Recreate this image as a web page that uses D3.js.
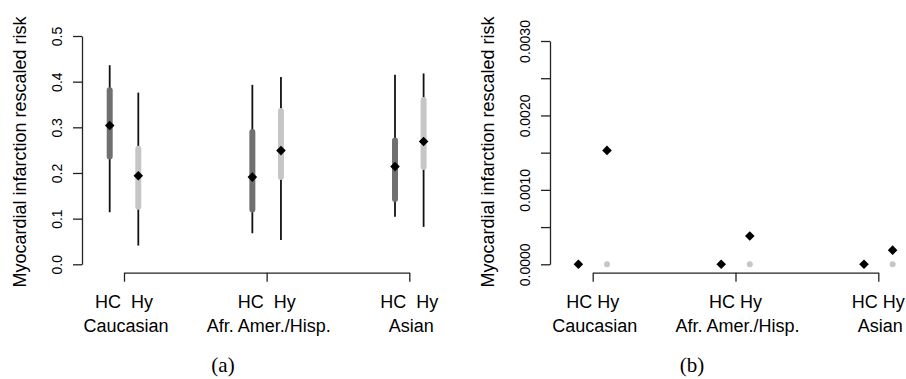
<!DOCTYPE html>
<html>
<head>
<meta charset="utf-8">
<script src="https://cdn.jsdelivr.net/npm/d3@7"></script>
<style>
  body { margin: 0; background: #fff; }
  text { font-family: "Liberation Sans", Arial, Helvetica, sans-serif; fill: #000; }
</style>
</head>
<body>
<div id="chart"></div>
<script>
// categories
var groups = ["Caucasian", "Afr. Amer./Hisp.", "Asian"];
var types = ["HC", "Hy"];

// panel (a): order Cauc HC, Cauc Hy, Afr HC, Afr Hy, Asian HC, Asian Hy
var aEst  = [0.304, 0.194, 0.191, 0.249, 0.214, 0.269];
var aLo95 = [0.114, 0.041, 0.068, 0.053, 0.104, 0.082];
var aHi95 = [0.436, 0.376, 0.393, 0.410, 0.415, 0.418];
var aLo50 = [0.236, 0.126, 0.120, 0.191, 0.143, 0.213];
var aHi50 = [0.381, 0.253, 0.290, 0.336, 0.271, 0.360];

// panel (b)
var bEst  = [0, 0.00153, 0, 0.00038, 0, 0.00019];
var bLo95 = [0, 0, 0, 0, 0, 0];
var bHi95 = [0, 0, 0, 0, 0, 0];
var bLo50 = [0, 0, 0, 0, 0, 0];
var bHi50 = [0, 0, 0, 0, 0, 0];

var aTicks = [0, 0.1, 0.2, 0.3, 0.4, 0.5];
var bTicks = [0, 0.0005, 0.001, 0.0015, 0.002, 0.0025, 0.003];
var bLabelled = [0, 0.001, 0.002, 0.003];

var boxColor = { HC: "#707070", Hy: "#c6c6c6" };

var svg = d3.select("#chart")
  .append("svg")
  .attr("width", 906)
  .attr("height", 379);

function rows(est, lo95, hi95, lo50, hi50) {
  var out = [];
  groups.forEach(function (g, i) {
    types.forEach(function (t, j) {
      var k = i * 2 + j;
      out.push({ group: g, type: t, est: est[k], lo95: lo95[k], hi95: hi95[k], lo50: lo50[k], hi50: hi50[k] });
    });
  });
  return out;
}

function panel(opt) {
  var g = svg.append("g");

  var y = d3.scaleLinear().domain(opt.domain).range([264.3, opt.top]);
  var x = d3.scalePoint().domain(groups).range(opt.xRange);
  var off = d3.scalePoint().domain(types).range([-14.3, 14.3]);

  // y axis
  var yAxis = g.append("g")
    .attr("transform", "translate(" + opt.axisX + ",0)")
    .call(d3.axisLeft(y).tickValues(opt.ticks).tickSize(9).tickSizeOuter(0).tickFormat(opt.fmt));
  yAxis.select(".domain").attr("stroke", "#222").attr("stroke-width", 1.3);
  yAxis.selectAll(".tick line").attr("stroke", "#222").attr("stroke-width", 1.3);
  yAxis.selectAll(".tick text")
    .attr("x", null).attr("dy", null)
    .attr("text-anchor", "middle")
    .attr("transform", "translate(-20,0) rotate(-90)")
    .style("font-size", "14px")
    .style("font-family", '"Liberation Sans", Arial, sans-serif')
    .attr("fill", "#000");

  // x axis (bracket)
  var xAxis = g.append("g")
    .attr("transform", "translate(0,272.7)")
    .call(d3.axisBottom(x).tickSize(9).tickSizeOuter(0).tickFormat(""));
  xAxis.select(".domain").attr("stroke", "#222").attr("stroke-width", 1.3);
  xAxis.selectAll(".tick line").attr("stroke", "#222").attr("stroke-width", 1.3);

  // category labels
  g.selectAll(".sub")
    .data(groups)
    .enter()
    .append("text")
    .attr("x", function (d) { return x(d); })
    .attr("y", 308)
    .attr("text-anchor", "middle")
    .style("white-space", "pre")
    .style("font-size", "18px")
    .text(opt.subLabel);

  g.selectAll(".grp")
    .data(groups)
    .enter()
    .append("text")
    .attr("x", function (d) { return x(d) + 2; })
    .attr("y", 332)
    .attr("text-anchor", "middle")
    .style("font-size", "18px")
    .text(function (d) { return d; });

  // y title
  g.append("text")
    .attr("transform", "translate(" + opt.titleX + ",152) rotate(-90)")
    .attr("text-anchor", "middle")
    .style("font-size", "18px")
    .text("Myocardial infarction rescaled risk");

  // panel tag
  g.append("text")
    .attr("x", opt.tagX)
    .attr("y", 372)
    .attr("text-anchor", "middle")
    .style("font-family", '"Liberation Serif", "Times New Roman", serif')
    .style("font-size", "21px")
    .text(opt.tag);

  var data = opt.data;
  var cx = function (d) { return x(d.group) + off(d.type); };

  g.append("g")
    .selectAll("line")
    .data(data)
    .enter()
    .append("line")
    .attr("x1", cx).attr("x2", cx)
    .attr("y1", function (d) { return y(d.lo95); })
    .attr("y2", function (d) { return y(d.hi95); })
    .attr("stroke", "#111")
    .attr("stroke-width", opt.whisker ? 1.8 : 0);

  g.append("g")
    .selectAll("line")
    .data(data)
    .enter()
    .append("line")
    .attr("x1", cx).attr("x2", cx)
    .attr("y1", function (d) { return y(d.lo50); })
    .attr("y2", function (d) { return y(d.hi50); })
    .attr("stroke", function (d) { return boxColor[d.type]; })
    .attr("stroke-width", 6)
    .attr("stroke-linecap", "round");

  var diamond = d3.symbol().type(d3.symbolSquare).size(46);
  g.append("g")
    .selectAll("path")
    .data(data)
    .enter()
    .append("path")
    .attr("d", diamond)
    .attr("transform", function (d) { return "translate(" + cx(d) + "," + y(d.est) + ") rotate(45)"; })
    .attr("fill", "#000");
}

panel({
  data: rows(aEst, aLo95, aHi95, aLo50, aHi50),
  domain: [0, 0.5], top: 36, ticks: aTicks,
  fmt: d3.format(".1f"),
  axisX: 82, xRange: [124, 409.3], titleX: 26,
  subLabel: "HC  Hy", tag: "(a)", tagX: 223, whisker: true
});

panel({
  data: rows(bEst, bLo95, bHi95, bLo50, bHi50),
  domain: [0, 0.003], top: 41, ticks: bTicks,
  fmt: function (d) { return bLabelled.indexOf(d) >= 0 ? d3.format(".4f")(d) : ""; },
  axisX: 550, xRange: [592.7, 878.3], titleX: 494,
  subLabel: "HC Hy", tag: "(b)", tagX: 692, whisker: false
});
</script>
</body>
</html>
